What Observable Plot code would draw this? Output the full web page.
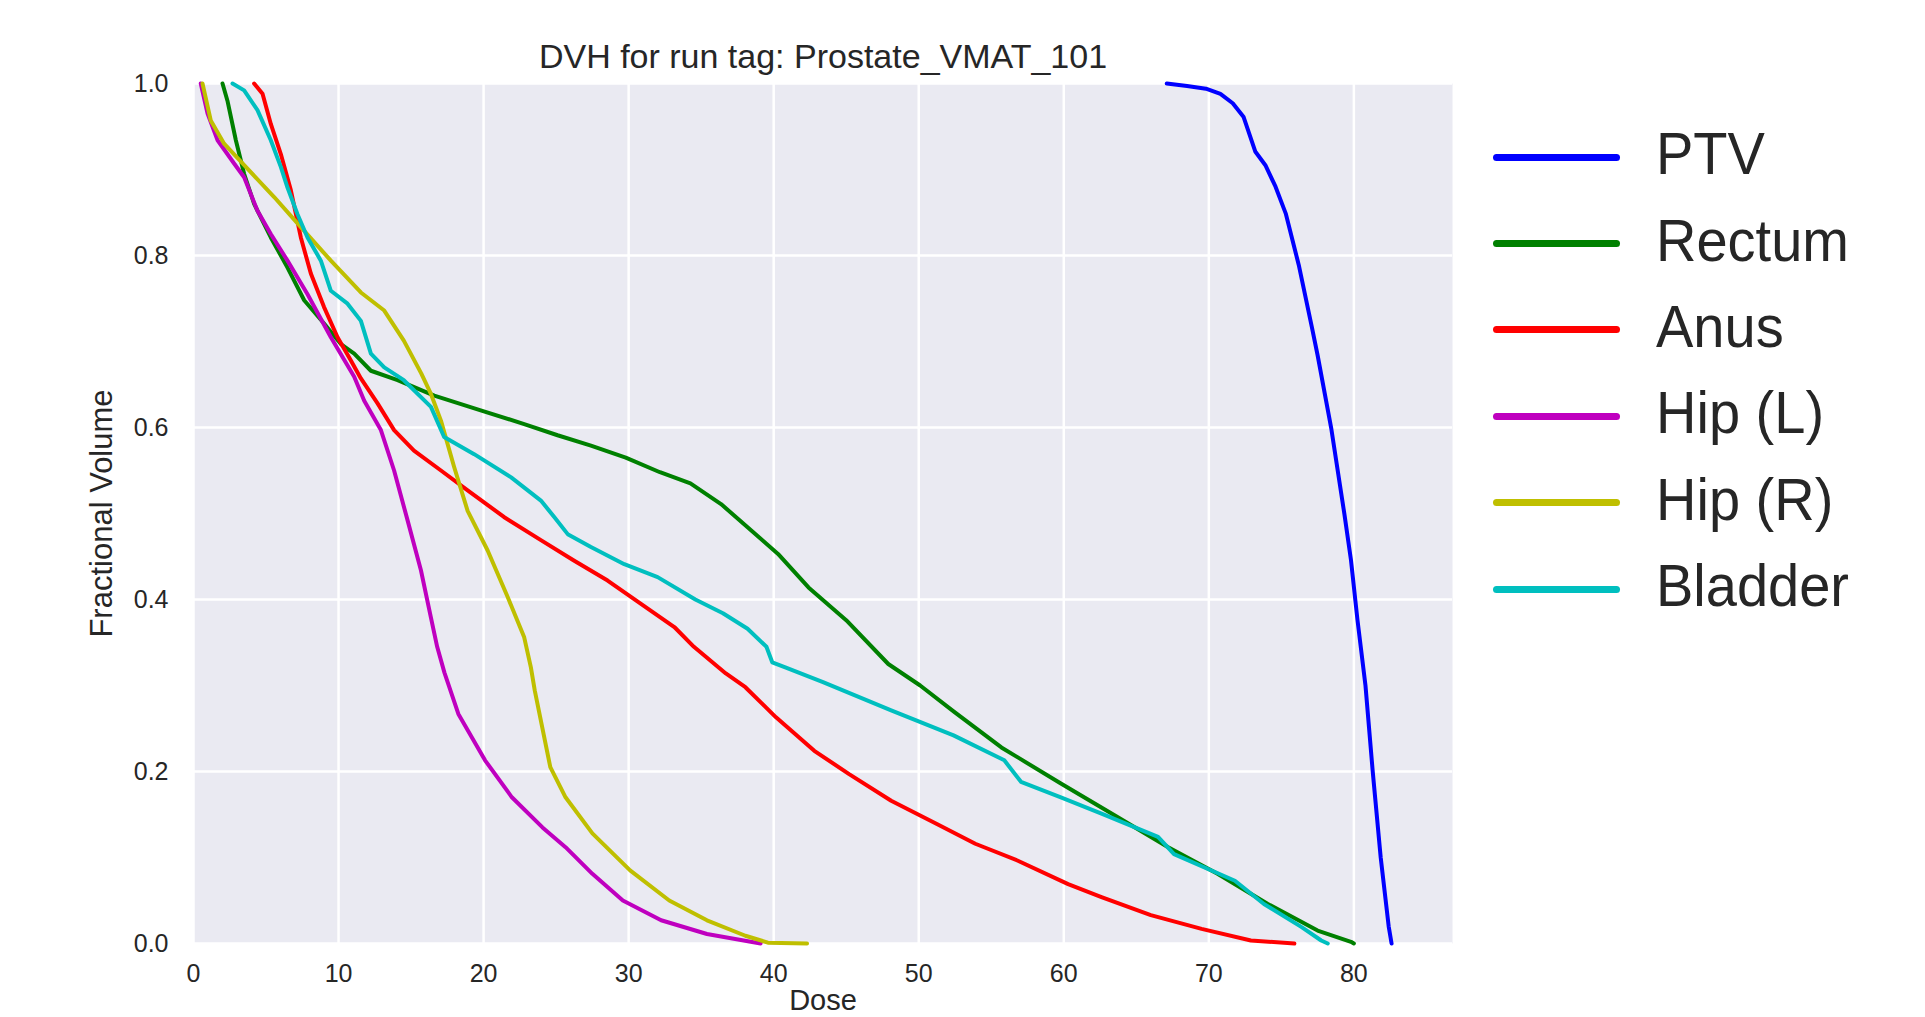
<!DOCTYPE html>
<html>
<head>
<meta charset="utf-8">
<script src="https://cdn.jsdelivr.net/npm/d3@7"></script>
<script src="https://cdn.jsdelivr.net/npm/@observablehq/plot@0.6"></script>
<style>
html, body { margin: 0; padding: 0; background: #fff; width: 1925px; height: 1017px; overflow: hidden; }
#wrap { position: relative; width: 1925px; height: 1017px; font-family: "Liberation Sans", Arial, sans-serif; }
#chart svg { display: block; }
#legend { position: absolute; left: 1493px; top: 114px; }
.row { display: flex; align-items: center; height: 86.4px; }
.sw { width: 127px; height: 7px; border-radius: 3.5px; margin-right: 36px; }
.lab { font-size: 56px; color: #262626; line-height: 1; position: relative; top: -3px; transform: scaleY(1.06); transform-origin: left center; }
</style>
</head>
<body>
<div id="wrap">
  <div id="chart"></div>
  <div id="legend"></div>
</div>
<script>
// ---- data ----
const titleText = "DVH for run tag: Prostate_VMAT_101";
const xLabel = "Dose";
const yLabel = "Fractional Volume";

const structures = ["PTV", "Rectum", "Anus", "Hip (L)", "Hip (R)", "Bladder"];
const colors = ["#0000ff", "#008000", "#ff0000", "#bf00bf", "#bfbf00", "#00bfbf"];

const xTicks = [0, 10, 20, 30, 40, 50, 60, 70, 80];
const yTicks = [0.0, 0.2, 0.4, 0.6, 0.8, 1.0];

const ptvDose = [67.1, 68.5, 69.8, 70.8, 71.65, 72.4, 73.2, 73.9, 74.6, 75.3, 76.2, 77.1, 77.5, 78.45, 79.35, 79.8, 80.25, 80.8, 81.3, 81.85, 82.4, 82.6];
const ptvVol  = [1.0, 0.997, 0.994, 0.988, 0.977, 0.961, 0.921, 0.905, 0.88, 0.849, 0.789, 0.717, 0.684, 0.598, 0.499, 0.446, 0.376, 0.30, 0.20, 0.10, 0.02, 0.0];

const rectumDose = [2.0, 2.34, 2.92, 3.49, 4.18, 5.33, 6.48, 7.63, 9.0, 10.16, 11.08, 12.23, 14.07, 16.6, 19.8, 22.8, 25.1, 27.4, 29.8, 32.16, 34.26, 36.37, 38.2, 40.3, 42.4, 45.0, 47.9, 50.1, 52.4, 55.7, 59.8, 63.7, 67.2, 70.6, 74.07, 77.5, 79.8, 80.0];
const rectumVol  = [1.0, 0.98, 0.934, 0.895, 0.86, 0.821, 0.786, 0.748, 0.721, 0.697, 0.686, 0.666, 0.655, 0.637, 0.620, 0.604, 0.591, 0.579, 0.565, 0.548, 0.535, 0.511, 0.484, 0.453, 0.414, 0.376, 0.325, 0.30, 0.27, 0.228, 0.186, 0.147, 0.112, 0.081, 0.046, 0.015, 0.002, 0.0];

const anusDose = [4.18, 4.76, 5.33, 6.02, 6.71, 7.4, 8.09, 9.0, 9.93, 10.85, 11.54, 12.69, 13.83, 15.2, 17.06, 18.9, 21.4, 23.95, 26.25, 28.55, 30.85, 33.15, 34.5, 36.7, 38.05, 40.16, 42.8, 45.2, 48.1, 51.25, 53.9, 56.8, 60.3, 62.6, 66.0, 69.5, 72.9, 75.9];
const anusVol  = [1.0, 0.988, 0.953, 0.918, 0.876, 0.821, 0.779, 0.74, 0.705, 0.678, 0.657, 0.628, 0.597, 0.573, 0.55, 0.527, 0.496, 0.469, 0.445, 0.422, 0.395, 0.368, 0.345, 0.314, 0.298, 0.263, 0.224, 0.197, 0.166, 0.139, 0.116, 0.0965, 0.069, 0.054, 0.033, 0.017, 0.0035, 0.0];

const hipLDose = [0.5, 0.97, 1.66, 2.8, 3.49, 4.41, 5.33, 6.48, 7.86, 9.47, 11.08, 11.77, 12.92, 13.83, 14.76, 15.68, 16.37, 16.8, 17.3, 18.26, 20.1, 21.95, 24.06, 25.65, 27.5, 29.6, 32.24, 35.4, 39.1];
const hipLVol  = [1.0, 0.965, 0.934, 0.907, 0.891, 0.852, 0.825, 0.794, 0.755, 0.705, 0.659, 0.631, 0.597, 0.55, 0.492, 0.434, 0.379, 0.345, 0.315, 0.267, 0.213, 0.170, 0.135, 0.112, 0.081, 0.05, 0.027, 0.011, 0.0];

const hipRDose = [0.62, 1.19, 2.11, 3.72, 5.56, 7.4, 9.47, 11.54, 13.15, 14.5, 15.7, 16.37, 17.06, 17.97, 18.9, 20.28, 21.66, 22.8, 23.26, 23.53, 24.6, 25.65, 27.5, 30.1, 32.8, 35.4, 38.05, 39.6, 42.3];
const hipRVol  = [1.0, 0.957, 0.93, 0.901, 0.868, 0.833, 0.794, 0.757, 0.736, 0.701, 0.663, 0.639, 0.608, 0.554, 0.503, 0.457, 0.403, 0.356, 0.321, 0.294, 0.205, 0.170, 0.128, 0.085, 0.05, 0.027, 0.009, 0.001, 0.0];

const bladderDose = [2.69, 3.49, 4.41, 5.33, 6.02, 6.48, 7.17, 7.86, 8.78, 9.47, 10.62, 11.54, 12.23, 13.15, 14.5, 16.37, 17.28, 19.35, 21.9, 23.95, 24.87, 25.8, 27.4, 29.7, 32.0, 34.6, 36.5, 38.2, 39.5, 39.9, 40.8, 43.4, 48.1, 52.4, 55.9, 57.05, 59.8, 62.6, 66.5, 67.6, 71.8, 73.8, 76.4, 77.75, 78.2];
const bladderVol  = [1.0, 0.992, 0.969, 0.934, 0.903, 0.879, 0.848, 0.821, 0.794, 0.759, 0.744, 0.724, 0.686, 0.670, 0.655, 0.624, 0.589, 0.569, 0.542, 0.515, 0.496, 0.476, 0.461, 0.441, 0.426, 0.40, 0.384, 0.366, 0.345, 0.327, 0.321, 0.304, 0.271, 0.242, 0.213, 0.188, 0.170, 0.151, 0.124, 0.104, 0.073, 0.046, 0.019, 0.0035, 0.0];

// ---- build table ----
const doseSeries = [ptvDose, rectumDose, anusDose, hipLDose, hipRDose, bladderDose];
const volSeries = [ptvVol, rectumVol, anusVol, hipLVol, hipRVol, bladderVol];
const rows = structures.flatMap((s, i) => doseSeries[i].map((d, j) => ({structure: s, dose: d, vol: volSeries[i][j]})));

const font = "'Liberation Sans', Arial, sans-serif";
const ink = "#262626";

const chart = Plot.plot({
  width: 1925,
  height: 1017,
  marginLeft: 193,
  marginRight: 473,
  marginTop: 83,
  marginBottom: 74,
  style: {fontFamily: font, fontSize: "25px", color: ink, background: "white"},
  x: {domain: [0, 86.8], label: null},
  y: {domain: [0, 1], label: null},
  color: {domain: structures, range: colors},
  marks: [
    Plot.frame({fill: "#EAEAF2", stroke: "none"}),
    Plot.gridX(xTicks, {stroke: "white", strokeOpacity: 1, strokeWidth: 2.5}),
    Plot.gridY(yTicks, {stroke: "white", strokeOpacity: 1, strokeWidth: 2.5}),
    Plot.axisX(xTicks, {tickSize: 0, tickPadding: 21, tickFormat: d => String(d), label: null, fontSize: 25, fill: ink}),
    Plot.axisY(yTicks, {tickSize: 0, tickPadding: 25, tickFormat: d3.format(".1f"), label: null, fontSize: 25, fill: ink}),
    Plot.line(rows, {x: "dose", y: "vol", z: "structure", stroke: "structure", strokeWidth: 4, strokeLinejoin: "round", strokeLinecap: "round"}),
    Plot.text([titleText], {frameAnchor: "top", lineAnchor: "bottom", dy: -16, fontSize: 34, fill: ink, text: d => d}),
    Plot.text([xLabel], {frameAnchor: "bottom", lineAnchor: "top", dy: 46, fontSize: 29, fill: ink, text: d => d}),
    Plot.text([yLabel], {frameAnchor: "left", textAnchor: "middle", lineAnchor: "middle", rotate: -90, dx: -91, fontSize: 31, fill: ink, text: d => d})
  ]
});
document.getElementById("chart").appendChild(chart);

// ---- legend ----
const legend = d3.select("#legend");
structures.forEach((s, i) => {
  const row = legend.append("div").attr("class", "row");
  row.append("div").attr("class", "sw").style("background", colors[i]);
  row.append("div").attr("class", "lab").text(s);
});
</script>
</body>
</html>
